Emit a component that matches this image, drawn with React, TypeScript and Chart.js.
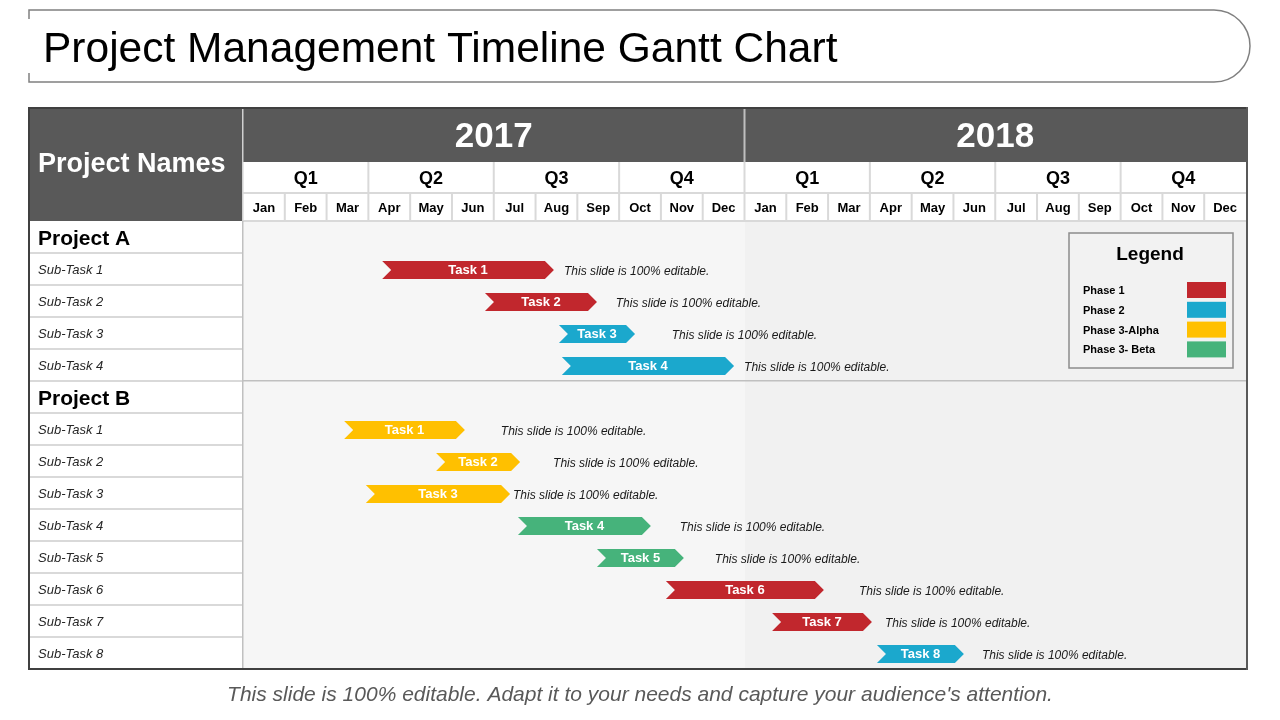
import React, { useEffect, useRef } from 'react';
import { Chart, registerables } from 'chart.js';

Chart.register(...registerables);

const TITLE = 'Project Management Timeline Gantt Chart';
const FOOTER = "This slide is 100% editable. Adapt it to your needs and capture your audience's attention.";
const HEADER_LEFT = 'Project Names';
const years = ['2017', '2018'];
const quarters = ['Q1', 'Q2', 'Q3', 'Q4', 'Q1', 'Q2', 'Q3', 'Q4'];
const months = ['Jan', 'Feb', 'Mar', 'Apr', 'May', 'Jun', 'Jul', 'Aug', 'Sep', 'Oct', 'Nov', 'Dec',
  'Jan', 'Feb', 'Mar', 'Apr', 'May', 'Jun', 'Jul', 'Aug', 'Sep', 'Oct', 'Nov', 'Dec'];

const rowLabels = ['Project A', 'Sub-Task 1', 'Sub-Task 2', 'Sub-Task 3', 'Sub-Task 4',
  'Project B', 'Sub-Task 1', 'Sub-Task 2', 'Sub-Task 3', 'Sub-Task 4', 'Sub-Task 5', 'Sub-Task 6', 'Sub-Task 7', 'Sub-Task 8'];
const isProjectRow = [true, false, false, false, false, true, false, false, false, false, false, false, false, false];
const taskNames = [null, 'Task 1', 'Task 2', 'Task 3', 'Task 4', null,
  'Task 1', 'Task 2', 'Task 3', 'Task 4', 'Task 5', 'Task 6', 'Task 7', 'Task 8'];
const taskStart = [null, 3.33, 5.79, 7.56, 7.63, null, 2.42, 4.62, 2.94, 6.58, 8.47, 10.12, 12.66, 15.17];
const taskEnd = [null, 7.44, 8.47, 9.38, 11.75, null, 5.31, 6.63, 6.39, 9.76, 10.55, 13.9, 15.05, 17.25];
const taskPhase = [null, 0, 0, 1, 1, null, 2, 2, 2, 3, 3, 0, 0, 1];
const noteStart = [null, 7.68, 8.92, 10.26, 11.99, null, 6.17, 7.42, 6.46, 10.45, 11.29, 14.74, 15.36, 17.68];
const NOTE = 'This slide is 100% editable.';

const LEGEND_TITLE = 'Legend';
const phaseNames = ['Phase 1', 'Phase 2', 'Phase 3-Alpha', 'Phase 3- Beta'];
const phaseColors = ['#c1272d', '#1ba8cd', '#ffc000', '#46b37b'];

const FONT = "'Liberation Sans', Arial, sans-serif";

const ganttPlugin = {
  id: 'ganttDecor',
  beforeDraw(chart: any) {
    const { ctx, chartArea } = chart;
    const xs = chart.scales.x;
    const ys = chart.scales.y;
    const L = 29;
    const colR = chartArea.left - 1;
    const R = chartArea.right + 1;
    const yearTop = 108;
    const yearBot = 162;
    const qBot = 193;
    const mBot = chartArea.top;
    ctx.save();
    ctx.fillStyle = '#ffffff';
    ctx.fillRect(0, 0, chart.width, chart.height);

    // title box
    ctx.strokeStyle = '#808080';
    ctx.lineWidth = 1.5;
    ctx.beginPath();
    ctx.moveTo(L, 19);
    ctx.lineTo(L, 10);
    ctx.lineTo(1214, 10);
    ctx.arc(1214, 46, 36, -Math.PI / 2, Math.PI / 2);
    ctx.lineTo(L, 82);
    ctx.lineTo(L, 73);
    ctx.stroke();
    ctx.fillStyle = '#000000';
    ctx.font = `42.5px ${FONT}`;
    ctx.textBaseline = 'alphabetic';
    ctx.textAlign = 'left';
    ctx.fillText(TITLE, 43, 62);

    // header dark areas
    ctx.fillStyle = '#595959';
    ctx.fillRect(L, yearTop, colR - L, mBot - yearTop);
    ctx.fillRect(chartArea.left, yearTop, R - chartArea.left, yearBot - yearTop);
    ctx.fillStyle = '#ffffff';
    ctx.fillRect(chartArea.left, yearBot, R - chartArea.left, mBot - yearBot);
    ctx.fillStyle = '#d0d0d0';
    ctx.fillRect(colR, yearTop, 1.5, mBot - yearTop);

    ctx.fillStyle = '#ffffff';
    ctx.font = `bold 27px ${FONT}`;
    ctx.textBaseline = 'middle';
    ctx.fillText(HEADER_LEFT, 38, 165);

    // years
    ctx.textAlign = 'center';
    ctx.font = `bold 35px ${FONT}`;
    years.forEach((yr, i) => {
      const a = xs.getPixelForValue(i * 12);
      const b = xs.getPixelForValue(i * 12 + 12);
      ctx.fillStyle = '#ffffff';
      ctx.fillText(yr, (a + b) / 2, 137);
      if (i > 0) {
        ctx.fillStyle = '#bfbfbf';
        ctx.fillRect(a - 1, yearTop, 2, yearBot - yearTop);
      }
    });
    // quarters
    ctx.font = `bold 18px ${FONT}`;
    quarters.forEach((q, i) => {
      const a = xs.getPixelForValue(i * 3);
      const b = xs.getPixelForValue(i * 3 + 3);
      ctx.fillStyle = '#000000';
      ctx.fillText(q, (a + b) / 2, 179);
      if (i > 0) {
        ctx.fillStyle = '#d9d9d9';
        ctx.fillRect(a - 1, yearBot, 2, qBot - yearBot);
      }
    });
    ctx.fillStyle = '#d9d9d9';
    ctx.fillRect(chartArea.left, qBot - 1, R - chartArea.left, 2);
    // months
    ctx.font = `bold 13px ${FONT}`;
    months.forEach((m, i) => {
      const a = xs.getPixelForValue(i);
      const b = xs.getPixelForValue(i + 1);
      ctx.fillStyle = '#000000';
      ctx.fillText(m, (a + b) / 2, 208);
      if (i > 0) {
        ctx.fillStyle = '#d9d9d9';
        ctx.fillRect(a - 1, qBot, 2, mBot - qBot);
      }
    });

    // plot backgrounds
    const mid = xs.getPixelForValue(12);
    ctx.fillStyle = '#f6f6f6';
    ctx.fillRect(chartArea.left, chartArea.top, mid - chartArea.left, chartArea.bottom - chartArea.top);
    ctx.fillStyle = '#f1f1f1';
    ctx.fillRect(mid, chartArea.top, R - mid, chartArea.bottom - chartArea.top);
    ctx.fillStyle = '#d9d9d9';
    ctx.fillRect(chartArea.left, mBot - 1, R - chartArea.left, 2);

    // left column rows
    const step = ys.getPixelForValue(1) - ys.getPixelForValue(0);
    rowLabels.forEach((lab, i) => {
      const cy = ys.getPixelForValue(i);
      ctx.textAlign = 'left';
      ctx.textBaseline = 'middle';
      if (isProjectRow[i]) {
        ctx.fillStyle = '#000000';
        ctx.font = `bold 21px ${FONT}`;
        ctx.fillText(lab, 38, cy + 2);
      } else {
        ctx.fillStyle = '#262626';
        ctx.font = `italic 13px ${FONT}`;
        ctx.fillText(lab, 38, cy + 1);
      }
      if (i > 0) {
        const by = cy - step / 2;
        ctx.fillStyle = '#d9d9d9';
        ctx.fillRect(L, by - 1, colR - L, 2);
        if (isProjectRow[i]) {
          ctx.fillStyle = '#c0c0c0';
          ctx.fillRect(chartArea.left, by - 1, R - chartArea.left, 1.5);
        }
      }
    });
    ctx.fillStyle = '#c0c0c0';
    ctx.fillRect(colR, mBot, 1.5, chartArea.bottom - mBot);
    ctx.restore();
  },
  beforeDatasetDraw() {
    return false;
  },
  afterDatasetsDraw(chart: any) {
    const { ctx, chartArea } = chart;
    const xs = chart.scales.x;
    const meta = chart.getDatasetMeta(0);
    ctx.save();
    meta.data.forEach((el: any, i: number) => {
      if (taskStart[i] == null) return;
      const p = el.getProps(['x', 'y', 'base', 'height'], true);
      const x0 = Math.min(p.x, p.base);
      const x1 = Math.max(p.x, p.base);
      const h = p.height;
      const cy = p.y + 1;
      const top = cy - h / 2;
      const bot = cy + h / 2;
      const d = 9;
      ctx.fillStyle = phaseColors[taskPhase[i] as number];
      ctx.beginPath();
      ctx.moveTo(x0, top);
      ctx.lineTo(x1 - d, top);
      ctx.lineTo(x1, cy);
      ctx.lineTo(x1 - d, bot);
      ctx.lineTo(x0, bot);
      ctx.lineTo(x0 + d, cy);
      ctx.closePath();
      ctx.fill();
      ctx.fillStyle = '#ffffff';
      ctx.font = `bold 13px ${FONT}`;
      ctx.textAlign = 'center';
      ctx.textBaseline = 'middle';
      ctx.fillText(taskNames[i] as string, (x0 + x1) / 2, cy);
      ctx.fillStyle = '#1a1a1a';
      ctx.font = `italic 12px ${FONT}`;
      ctx.textAlign = 'left';
      ctx.fillText(NOTE, xs.getPixelForValue(noteStart[i] as number), cy + 2);
    });

    // legend box
    const lx = 1069, ly = 233, lw = 164, lh = 135;
    ctx.fillStyle = '#f2f2f2';
    ctx.fillRect(lx, ly, lw, lh);
    ctx.strokeStyle = '#8c8c8c';
    ctx.lineWidth = 1.5;
    ctx.strokeRect(lx, ly, lw, lh);
    ctx.fillStyle = '#000000';
    ctx.font = `bold 19px ${FONT}`;
    ctx.textAlign = 'center';
    ctx.textBaseline = 'middle';
    ctx.fillText(LEGEND_TITLE, lx + lw / 2 - 1, 255);
    phaseNames.forEach((n, i) => {
      const cy = 290 + i * 19.8;
      ctx.fillStyle = '#000000';
      ctx.font = `bold 11px ${FONT}`;
      ctx.textAlign = 'left';
      ctx.fillText(n, 1083, cy + 1);
      ctx.fillStyle = phaseColors[i];
      ctx.fillRect(1187, cy - 8, 39, 16);
    });

    // outer table border
    const L = 29, R = chartArea.right + 1;
    ctx.fillStyle = '#404040';
    ctx.fillRect(L - 1, 107, R - L + 2, 2);
    ctx.fillRect(L - 1, 107, 2, chartArea.bottom - 107 + 1);
    ctx.fillRect(L - 1, chartArea.bottom - 1, R - L + 2, 2);
    ctx.fillStyle = '#595959';
    ctx.fillRect(R - 1, 107, 2, chartArea.bottom - 107 + 1);

    // footer
    ctx.fillStyle = '#595959';
    ctx.font = `italic 21px ${FONT}`;
    ctx.textAlign = 'center';
    ctx.textBaseline = 'middle';
    ctx.fillText(FOOTER, 640, 695);
    ctx.restore();
  },
};

export default function App() {
  const ref = useRef<HTMLCanvasElement>(null);
  useEffect(() => {
    if (!ref.current) return;
    const chart = new Chart(ref.current, {
      type: 'bar',
      data: {
        labels: rowLabels,
        datasets: [{
          label: 'Tasks',
          data: rowLabels.map((_, i) => (taskStart[i] == null ? null : [taskStart[i], taskEnd[i]])) as any,
          backgroundColor: rowLabels.map((_, i) => (taskPhase[i] == null ? 'transparent' : phaseColors[taskPhase[i] as number])),
          barThickness: 18,
        }],
      },
      options: {
        indexAxis: 'y',
        responsive: false,
        animation: false,
        devicePixelRatio: 1,
        layout: { padding: { left: 243, right: 34, top: 221, bottom: 51 } },
        scales: {
          x: { type: 'linear', min: 0, max: 24, display: false },
          y: { type: 'category', display: false },
        },
        plugins: { legend: { display: false }, tooltip: { enabled: false } },
      },
      plugins: [ganttPlugin],
    });
    return () => chart.destroy();
  }, []);
  return (
    <div style={{ position: 'absolute', left: 0, top: 0, width: 1280, height: 720, background: '#fff' }}>
      <canvas ref={ref} width={1280} height={720} style={{ display: 'block' }} />
    </div>
  );
}
